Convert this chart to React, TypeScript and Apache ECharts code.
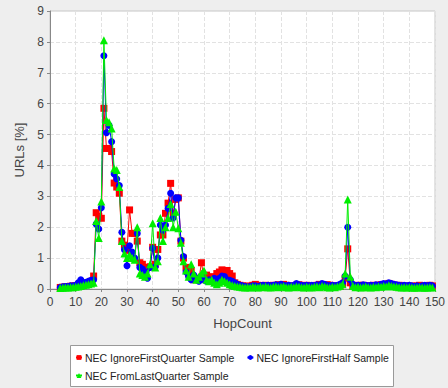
import React, { useEffect, useRef } from "react";
import * as echarts from "echarts";

const HOP_START = 4;

const ignoreFirstQuarter = [
  0.05, 0.06, 0.07, 0.08, 0.09, 0.1, 0.1, 0.12, 0.18, 0.15, 0.18, 0.2, 0.25,
  0.42, 2.47, 2.35, 2.29, 5.85, 4.55, 4.55, 4.45, 3.43, 3.3, 3.1, 1.55, 1.42, 1.25,
  2.56, 1.8, 1.8, 1.55, 0.85, 0.8, 0.6, 0.7, 0.72, 1.35, 0.8, 1.28, 1.75, 1.75,
  2.45, 2.78, 3.42, 2.45, 2.9, 2.95, 1.55, 1.0, 0.7, 0.5, 0.6, 0.3, 0.35, 0.3,
  0.85, 0.35, 0.45, 0.3, 0.4, 0.35, 0.5, 0.55, 0.62, 0.55, 0.6, 0.5, 0.42, 0.2,
  0.15, 0.12, 0.1, 0.08, 0.1, 0.08, 0.12, 0.15, 0.12, 0.1, 0.1, 0.12, 0.1, 0.08,
  0.12, 0.1, 0.14, 0.12, 0.15, 0.12, 0.1, 0.1, 0.08, 0.12, 0.14, 0.1, 0.08, 0.12,
  0.1, 0.08, 0.1, 0.12, 0.15, 0.12, 0.1, 0.14, 0.12, 0.1, 0.08, 0.1, 0.08, 0.15,
  0.35, 1.3, 0.2, 0.1, 0.08, 0.12, 0.1, 0.12, 0.1, 0.08, 0.1, 0.12, 0.1, 0.12,
  0.14, 0.12, 0.15, 0.18, 0.15, 0.12, 0.1, 0.12, 0.1, 0.08, 0.1, 0.08, 0.1, 0.08,
  0.1, 0.12, 0.1, 0.08, 0.1, 0.12, 0.1,
];

const ignoreFirstHalf = [
  0.05, 0.07, 0.08, 0.08, 0.1, 0.1, 0.12, 0.2, 0.3, 0.2, 0.22, 0.25, 0.28,
  0.3, 2.1, 1.94, 2.63, 7.55, 5.06, 5.3, 4.77, 3.72, 3.56, 3.35, 1.84, 1.27, 0.75,
  1.4, 1.2, 1.0, 1.8, 0.7, 0.65, 0.55, 0.35, 0.7, 1.32, 0.72, 1.0, 2.07, 1.9,
  2.07, 2.61, 3.1, 2.3, 2.95, 2.95, 1.58, 1.05, 0.55, 0.4, 0.3, 0.45, 0.35, 0.25,
  0.4, 0.3, 0.25, 0.3, 0.25, 0.35, 0.3, 0.35, 0.42, 0.4, 0.3, 0.28, 0.25, 0.2,
  0.15, 0.12, 0.1, 0.08, 0.06, 0.08, 0.1, 0.1, 0.08, 0.1, 0.12, 0.1, 0.12, 0.1,
  0.12, 0.14, 0.12, 0.15, 0.12, 0.1, 0.12, 0.1, 0.12, 0.18, 0.14, 0.12, 0.1, 0.12,
  0.1, 0.12, 0.1, 0.14, 0.12, 0.18, 0.15, 0.12, 0.1, 0.12, 0.1, 0.12, 0.15, 0.2,
  0.42, 2.0, 0.3, 0.15, 0.1, 0.12, 0.1, 0.14, 0.12, 0.1, 0.12, 0.1, 0.14, 0.12,
  0.15, 0.18, 0.15, 0.2, 0.18, 0.15, 0.14, 0.12, 0.1, 0.12, 0.1, 0.12, 0.1, 0.08,
  0.1, 0.08, 0.1, 0.12, 0.1, 0.12, 0.1,
];

const fromLastQuarter = [
  0.03, 0.04, 0.05, 0.05, 0.06, 0.06, 0.07, 0.08, 0.1, 0.12, 0.14, 0.15, 0.18,
  0.2, 2.2, 1.65, 2.83, 8.05, 5.47, 5.4, 5.2, 3.9, 3.85, 3.3, 1.55, 1.15, 1.0,
  1.1, 1.0, 0.95, 2.0, 0.5, 0.45, 0.4, 0.5, 0.8, 2.13, 0.7, 0.9, 2.3, 1.55,
  2.0, 2.3, 2.75, 2.0, 2.5, 1.97, 1.5, 0.9, 0.6, 0.4, 0.8, 0.5, 0.3, 0.4,
  0.5, 0.6, 0.3, 0.25, 0.3, 0.2, 0.15, 0.2, 0.3, 0.25, 0.2, 0.15, 0.12, 0.1,
  0.08, 0.07, 0.06, 0.05, 0.06, 0.05, 0.07, 0.06, 0.05, 0.07, 0.06, 0.08, 0.06, 0.05,
  0.07, 0.08, 0.06, 0.07, 0.09, 0.06, 0.05, 0.07, 0.06, 0.08, 0.07, 0.06, 0.05, 0.07,
  0.06, 0.05, 0.07, 0.08, 0.06, 0.1, 0.08, 0.06, 0.05, 0.07, 0.06, 0.08, 0.1, 0.15,
  0.5, 2.9, 0.4, 0.1, 0.06, 0.07, 0.05, 0.06, 0.08, 0.06, 0.05, 0.07, 0.06, 0.08,
  0.07, 0.1, 0.08, 0.12, 0.1, 0.08, 0.07, 0.06, 0.05, 0.06, 0.05, 0.06, 0.05, 0.04,
  0.05, 0.06, 0.05, 0.04, 0.05, 0.06, 0.05,
];

const seriesNames = [
  "NEC IgnoreFirstQuarter Sample",
  "NEC IgnoreFirstHalf Sample",
  "NEC FromLastQuarter Sample",
];
const seriesColors = ["#ff0000", "#0000ff", "#00ee00"];
const seriesSymbols = ["rect", "circle", "triangle"];

const FONT = "'Liberation Sans', Arial, sans-serif";

function toPairs(values: number[]) {
  return values.map((v, i) => [HOP_START + i, v]);
}

export default function App() {
  const ref = useRef<HTMLDivElement>(null);
  useEffect(() => {
    document.body.style.margin = "0";
    if (!ref.current) return;
    const chart = echarts.init(ref.current, null, { renderer: "svg" });
    const allData = [ignoreFirstQuarter, ignoreFirstHalf, fromLastQuarter];
    chart.setOption({
      animation: false,
      backgroundColor: "#eeeeee",
      textStyle: { fontFamily: FONT },
      grid: {
        left: 50,
        right: 2,
        top: 11,
        bottom: 99,
        show: true,
        backgroundColor: "#ffffff",
        borderColor: "#c8c8c8",
        borderWidth: 1,
      },
      xAxis: {
        type: "value",
        min: 0,
        max: 150,
        interval: 10,
        name: "HopCount",
        nameLocation: "middle",
        nameGap: 28,
        nameTextStyle: { fontSize: 13, color: "#444", fontFamily: FONT },
        axisLine: { show: true, lineStyle: { color: "#888" } },
        axisTick: { show: true, length: 3, lineStyle: { color: "#888" } },
        axisLabel: { fontSize: 12, color: "#444", margin: 7, fontFamily: FONT },
        splitLine: { show: true, lineStyle: { color: "#e2e2e2", type: "dashed" } },
      },
      yAxis: {
        type: "value",
        min: 0,
        max: 9,
        interval: 1,
        name: "URLs [%]",
        nameLocation: "middle",
        nameGap: 18,
        nameTextStyle: { fontSize: 13, color: "#444", fontFamily: FONT },
        axisLine: { show: true, lineStyle: { color: "#888" } },
        axisTick: { show: true, length: 3, lineStyle: { color: "#888" } },
        axisLabel: { fontSize: 12, color: "#444", margin: 6, fontFamily: FONT },
        splitLine: { show: true, lineStyle: { color: "#e2e2e2", type: "dashed" } },
      },
      graphic: [
        {
          type: "rect",
          left: 70,
          top: 345,
          shape: { width: 323, height: 41 },
          style: { fill: "#ffffff", stroke: "#999999", lineWidth: 1 },
          z: 0,
        },
      ],
      legend: [
        {
          data: [seriesNames[0], seriesNames[1]],
          left: 75,
          top: 352,
          orient: "horizontal",
          itemWidth: 6,
          itemHeight: 6,
          itemGap: 12,
          padding: 0,
          textStyle: { fontSize: 10.5, color: "#222", fontFamily: FONT, padding: [0, 0, 0, -2] },
          z: 10,
        },
        {
          data: [seriesNames[2]],
          left: 75,
          top: 370,
          orient: "horizontal",
          itemWidth: 6,
          itemHeight: 6,
          padding: 0,
          textStyle: { fontSize: 10.5, color: "#222", fontFamily: FONT, padding: [0, 0, 0, -2] },
          z: 10,
        },
      ],
      series: allData.map((vals, i) => ({
        name: seriesNames[i],
        type: "line",
        data: toPairs(vals),
        symbol: seriesSymbols[i],
        symbolSize: i === 2 ? 8 : 7,
        showAllSymbol: true,
        itemStyle: { color: seriesColors[i] },
        lineStyle: { color: seriesColors[i], width: 1 },
        z: 2 + i,
      })),
    });
    return () => chart.dispose();
  }, []);
  return <div ref={ref} style={{ width: 448, height: 388 }} />;
}
